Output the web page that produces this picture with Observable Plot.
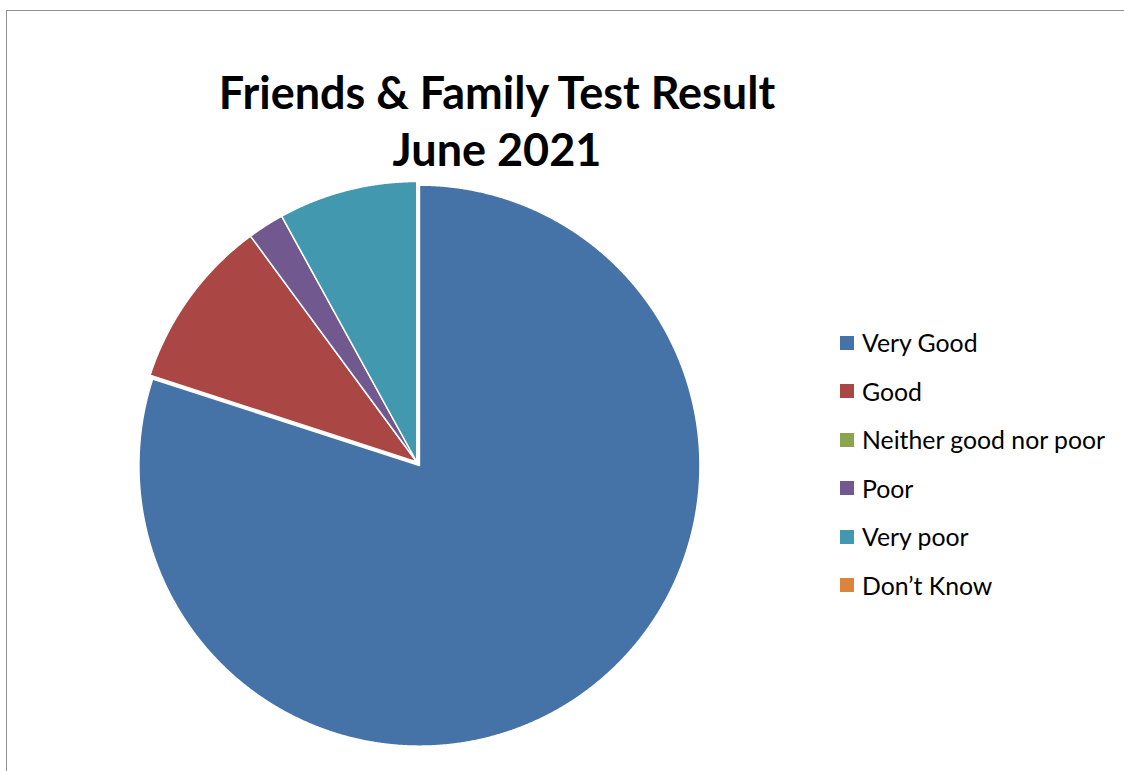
<!DOCTYPE html>
<html>
<head>
<meta charset="utf-8">
<script src="https://cdn.jsdelivr.net/npm/d3@7"></script>
<script src="https://cdn.jsdelivr.net/npm/@observablehq/plot@0.6"></script>
<style>
  html, body { margin: 0; padding: 0; background: #ffffff; }
  #wrap { position: relative; width: 1124px; height: 771px; overflow: hidden; font-family: Lato, "Open Sans", sans-serif; }
  #frame { position: absolute; left: 6px; top: 10px; width: 1300px; height: 900px;
           border-left: 1.5px solid #8f8f8f; border-top: 1.5px solid #8f8f8f; }
  #chart { position: absolute; left: 0; top: 0; }
  #title { position: absolute; left: 197px; width: 600px; top: 64px; text-align: center;
           font-weight: 700; font-size: 45px; line-height: 57px; color: #000; }
  #legend { position: absolute; left: 840px; top: 0; }
  .item { position: absolute; left: 0; white-space: nowrap; height: 28px; display: flex; align-items: center; }
  .sw { width: 14px; height: 14px; margin-right: 8px; flex: none; }
  .lab { font-size: 24.8px; color: #000; }
</style>
</head>
<body>
<div id="wrap">
  <div id="frame"></div>
  <div id="chart"></div>
  <div id="title">Friends &amp; Family Test Result<br>June 2021</div>
  <div id="legend"></div>
</div>
<script>
// ---- data ----
const categories = ["Very Good", "Good", "Neither good nor poor", "Poor", "Very poor", "Don’t Know"];
const values = [80, 9.9, 0, 2.1, 8, 0];
const colors = ["#4572A7", "#AA4643", "#89A54E", "#71588F", "#4198AF", "#DB843D"];
const explodedSlices = ["Very Good"];

// ---- slice outlines from the pie layout (unit circle, clockwise from 12 o'clock) ----
const arcs = d3.pie().sort(null).value(d => d.value)(
  categories.map((c, i) => ({ key: c, value: values[i] }))
);
const pts = [];
for (const a of arcs) {
  const span = a.endAngle - a.startAngle;
  if (span <= 0) continue;
  const key = a.data.key;
  const mid = (a.startAngle + a.endAngle) / 2;
  const off = explodedSlices.includes(key) ? 0.016 : 0;
  const ox = off * Math.sin(mid), oy = off * Math.cos(mid);
  pts.push({ key, x: ox, y: oy });
  const n = Math.max(2, Math.ceil(span / 0.004));
  for (let k = 0; k <= n; k++) {
    const t = a.startAngle + span * k / n;
    pts.push({ key, x: ox + Math.sin(t), y: oy + Math.cos(t) });
  }
}

const cx = 416.3, cy = 461.5, r = 280.5;
const chart = Plot.plot({
  width: 1124,
  height: 771,
  style: { background: "transparent" },
  x: { domain: [-1, 1], range: [cx - r, cx + r], axis: null },
  y: { domain: [-1, 1], range: [cy + r, cy - r], axis: null },
  color: { domain: categories, range: colors },
  marks: [
    Plot.line(pts, { x: "x", y: "y", z: "key", fill: "key", stroke: "white", strokeWidth: 1.5, curve: "linear-closed" })
  ]
});
document.getElementById("chart").appendChild(chart);

// ---- legend ----
const legend = document.getElementById("legend");
categories.forEach((c, i) => {
  const row = document.createElement("div");
  row.className = "item";
  row.style.top = (343 + i * 48.5 - 14.5) + "px";
  const sw = document.createElement("div");
  sw.className = "sw";
  sw.style.background = colors[i];
  const lab = document.createElement("span");
  lab.className = "lab";
  lab.textContent = c;
  row.appendChild(sw);
  row.appendChild(lab);
  legend.appendChild(row);
});
</script>
</body>
</html>
